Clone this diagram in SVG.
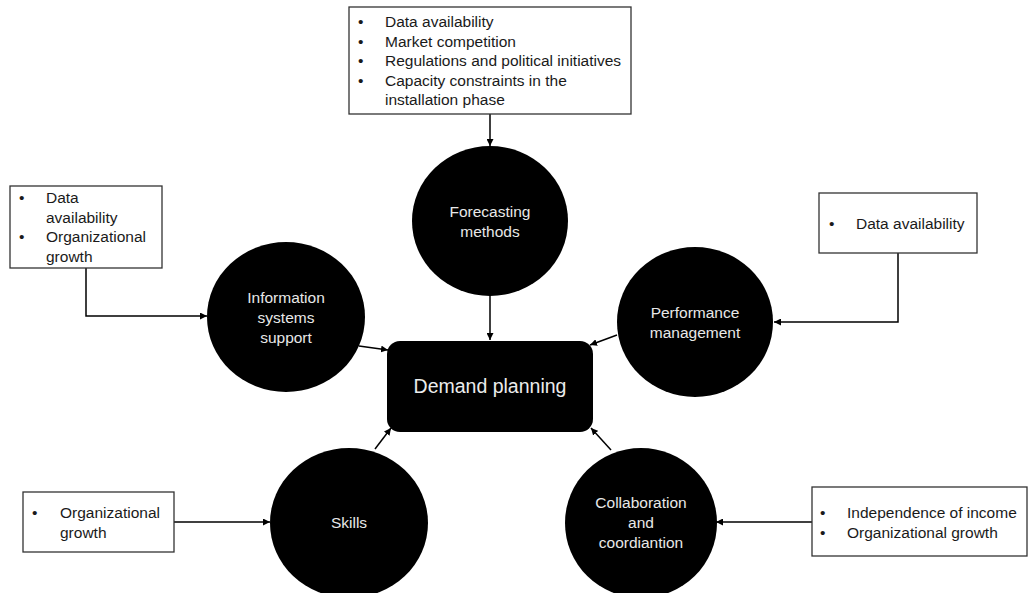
<svg xmlns="http://www.w3.org/2000/svg" width="1028" height="593" viewBox="0 0 1028 593">
  <style>
    .box { fill: #ffffff; stroke: #333333; stroke-width: 1.3; }
    .hub { fill: #000000; }
    .factor { fill: #000000; }
    .txt { font-family: "Liberation Sans", Arial, sans-serif; font-size: 15.5px; fill: #1a1a1a; }
    .lbl { font-family: "Liberation Sans", Arial, sans-serif; font-size: 15.5px; fill: #e8e8e8; text-anchor: middle; }
    .hubtxt { font-family: "Liberation Sans", Arial, sans-serif; font-size: 19.5px; fill: #ececec; text-anchor: middle; }
    .link { fill: none; stroke: #000000; stroke-width: 1.5; marker-end: url(#arrow); }
  </style>
  <defs>
    <marker id="arrow" viewBox="0 0 10 10" refX="10" refY="5" markerWidth="7" markerHeight="7" markerUnits="userSpaceOnUse" orient="auto">
      <path d="M0,0 L10,5 L0,10 z" fill="#000000"/>
    </marker>
  </defs>
  <rect width="1028" height="593" fill="#ffffff"/>

  <!-- connectors -->
  <g id="connectors">
    <line class="link" x1="490" y1="114" x2="490" y2="146"/>
    <line class="link" x1="490" y1="296" x2="490" y2="340"/>
    <path class="link" d="M86 268 V316 H207"/>
    <line class="link" x1="359" y1="346" x2="388" y2="350"/>
    <line class="link" x1="617" y1="335" x2="590" y2="345"/>
    <path class="link" d="M898 253 V322 H774"/>
    <line class="link" x1="375" y1="449" x2="391" y2="428"/>
    <line class="link" x1="611" y1="450" x2="591" y2="428"/>
    <line class="link" x1="174" y1="522" x2="270" y2="522"/>
    <line class="link" x1="812" y1="522" x2="716" y2="522"/>
  </g>

  <!-- central node -->
  <g id="demand-planning">
    <rect class="hub" x="387" y="341" width="206" height="91" rx="13" ry="13"/>
    <text class="hubtxt" x="490" y="393">Demand planning</text>
  </g>

  <!-- factor circles -->
  <g id="forecasting-methods">
    <ellipse class="factor" cx="490" cy="221" rx="78" ry="75"/>
    <text class="lbl" x="490" y="217">Forecasting</text>
    <text class="lbl" x="490" y="237">methods</text>
  </g>
  <g id="information-systems-support">
    <ellipse class="factor" cx="286" cy="317" rx="79" ry="75"/>
    <text class="lbl" x="286" y="303">Information</text>
    <text class="lbl" x="286" y="323">systems</text>
    <text class="lbl" x="286" y="343">support</text>
  </g>
  <g id="performance-management">
    <ellipse class="factor" cx="695" cy="322" rx="78" ry="75"/>
    <text class="lbl" x="695" y="318">Performance</text>
    <text class="lbl" x="695" y="338">management</text>
  </g>
  <g id="skills">
    <ellipse class="factor" cx="349" cy="523" rx="79" ry="75"/>
    <text class="lbl" x="349" y="528">Skills</text>
  </g>
  <g id="collaboration-and-coordination">
    <ellipse class="factor" cx="641" cy="523" rx="76" ry="75"/>
    <text class="lbl" x="641" y="508">Collaboration</text>
    <text class="lbl" x="641" y="528">and</text>
    <text class="lbl" x="641" y="548">coordiantion</text>
  </g>

  <!-- influencing-factor boxes -->
  <g id="forecasting-factors">
    <rect class="box" x="349" y="7" width="282" height="107"/>
    <text class="txt" x="358" y="27">•</text><text class="txt" x="385" y="27">Data availability</text>
    <text class="txt" x="358" y="46.5">•</text><text class="txt" x="385" y="46.5">Market competition</text>
    <text class="txt" x="358" y="66">•</text><text class="txt" x="385" y="66">Regulations and political initiatives</text>
    <text class="txt" x="358" y="85.5">•</text><text class="txt" x="385" y="85.5">Capacity constraints in the</text>
    <text class="txt" x="385" y="105">installation phase</text>
  </g>
  <g id="information-systems-factors">
    <rect class="box" x="10" y="186" width="152" height="82"/>
    <text class="txt" x="19" y="203">•</text><text class="txt" x="46" y="203">Data</text>
    <text class="txt" x="46" y="222.5">availability</text>
    <text class="txt" x="19" y="242">•</text><text class="txt" x="46" y="242">Organizational</text>
    <text class="txt" x="46" y="261.5">growth</text>
  </g>
  <g id="performance-factors">
    <rect class="box" x="819" y="193" width="158" height="60"/>
    <text class="txt" x="829" y="229">•</text><text class="txt" x="856" y="229">Data availability</text>
  </g>
  <g id="skills-factors">
    <rect class="box" x="23" y="492" width="151" height="60"/>
    <text class="txt" x="32" y="518">•</text><text class="txt" x="60" y="518">Organizational</text>
    <text class="txt" x="60" y="538">growth</text>
  </g>
  <g id="collaboration-factors">
    <rect class="box" x="812" y="487" width="215" height="69"/>
    <text class="txt" x="820" y="518">•</text><text class="txt" x="847" y="518">Independence of income</text>
    <text class="txt" x="820" y="538">•</text><text class="txt" x="847" y="538">Organizational growth</text>
  </g>
</svg>
